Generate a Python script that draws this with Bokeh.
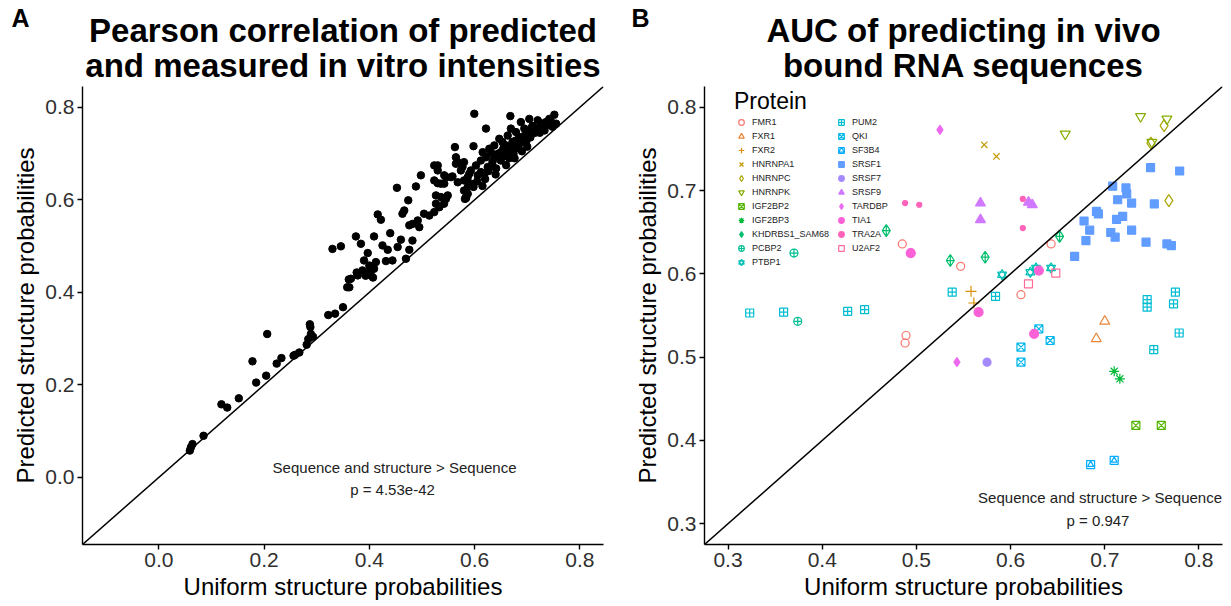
import math
from bokeh.plotting import figure
from bokeh.models import (Range1d, FixedTicker, PrintfTickFormatter, Label, Slope,
                          Legend, LegendItem)
from bokeh.layouts import row, column
from bokeh.embed import file_html
from bokeh.resources import INLINE

FONT = "Liberation Sans"

# ---------------- Panel A data ----------------
A_X = [0.059, 0.061, 0.064, 0.085, 0.119, 0.130, 0.152, 0.178, 0.185, 0.206, 0.204, 0.224,
       0.233, 0.256, 0.259, 0.267, 0.281, 0.287, 0.288, 0.289, 0.293, 0.284, 0.322, 0.335,
       0.350, 0.358, 0.361, 0.376, 0.393, 0.407, 0.400,
       0.330, 0.346, 0.3745, 0.409, 0.384, 0.397, 0.425, 0.4397, 0.435, 0.460, 0.4538, 0.444,
       0.4316, 0.4125, 0.400, 0.390, 0.387, 0.378, 0.403, 0.409, 0.365, 0.362, 0.4696, 0.476,
       0.482, 0.492, 0.495, 0.482, 0.476, 0.4664, 0.463, 0.474, 0.416, 0.422, 0.4525, 0.4886,
       0.498, 0.504, 0.514, 0.5266, 0.533, 0.5234, 0.536, 0.5456, 0.530, 0.5424, 0.5234, 0.530,
       0.5456, 0.558, 0.5646, 0.574, 0.580, 0.587, 0.5817, 0.587, 0.590,
       0.5995, 0.668, 0.7516, 0.6217, 0.5627, 0.598, 0.755, 0.704, 0.688, 0.720, 0.7357, 0.707,
       0.7135, 0.6945, 0.6787, 0.669, 0.685, 0.672, 0.6597, 0.647, 0.6375, 0.650, 0.631, 0.6217,
       0.612, 0.634, 0.625, 0.6027, 0.593, 0.606, 0.6185, 0.587, 0.577, 0.5646, 0.568, 0.580,
       0.555, 0.5424, 0.530, 0.5234, 0.536, 0.568, 0.593, 0.580, 0.549, 0.5424, 0.5836, 0.742,
       0.726, 0.701, 0.663, 0.653, 0.628, 0.6154, 0.5266, 0.542, 0.584,
       0.605, 0.612, 0.620, 0.626, 0.632, 0.637, 0.641, 0.645, 0.650, 0.655, 0.658, 0.662,
       0.666, 0.670, 0.674, 0.678, 0.682, 0.686, 0.690, 0.694, 0.698, 0.702, 0.706, 0.710,
       0.715, 0.720, 0.724, 0.728, 0.733, 0.738, 0.745, 0.748, 0.615, 0.598, 0.640, 0.660,
       0.676, 0.700]
A_Y = [0.058, 0.065, 0.072, 0.090, 0.158, 0.151, 0.171, 0.251, 0.205, 0.310, 0.220, 0.246,
       0.258, 0.263, 0.265, 0.270, 0.287, 0.331, 0.325, 0.310, 0.304, 0.299, 0.351, 0.354,
       0.368, 0.411, 0.428, 0.443, 0.436, 0.432, 0.446,
       0.494, 0.4995, 0.521, 0.521, 0.505, 0.485, 0.5015, 0.528, 0.492, 0.514, 0.498, 0.469,
       0.4676, 0.4655, 0.458, 0.469, 0.4475, 0.4367, 0.4367, 0.451, 0.4295, 0.411, 0.4727, 0.492,
       0.512, 0.5555, 0.541, 0.548, 0.545, 0.577, 0.570, 0.599, 0.5685, 0.557, 0.626, 0.629,
       0.653, 0.570, 0.566, 0.5916, 0.584, 0.5735, 0.606, 0.602, 0.636, 0.635, 0.6745, 0.6636,
       0.649, 0.6507, 0.678, 0.6636, 0.642, 0.6275, 0.602, 0.613, 0.6565,
       0.786, 0.781, 0.784, 0.754, 0.714, 0.716, 0.7646, 0.775, 0.768, 0.772, 0.768, 0.754,
       0.7465, 0.754, 0.7465, 0.754, 0.7356, 0.725, 0.7177, 0.732, 0.7177, 0.703, 0.703, 0.692,
       0.685, 0.6815, 0.671, 0.6745, 0.6636, 0.653, 0.6565, 0.649, 0.671, 0.692, 0.6815, 0.6815,
       0.649, 0.653, 0.6745, 0.642, 0.635, 0.638, 0.635, 0.620, 0.6096, 0.602, 0.606, 0.775,
       0.761, 0.7425, 0.739, 0.725, 0.7105, 0.703, 0.6096, 0.5916, 0.604,
       0.640, 0.660, 0.645, 0.662, 0.672, 0.690, 0.668, 0.700, 0.685, 0.712, 0.695, 0.705,
       0.690, 0.715, 0.700, 0.728, 0.712, 0.722, 0.705, 0.738, 0.725, 0.750, 0.735, 0.760,
       0.745, 0.755, 0.745, 0.765, 0.750, 0.762, 0.770, 0.758, 0.630, 0.628, 0.655, 0.675,
       0.690, 0.715]
A_TICKS = [0.0, 0.2, 0.4, 0.6, 0.8]
A_RANGE = (-0.145, 0.845)
A_TITLE = ["Pearson correlation of predicted", "and measured in vitro intensities"]
A_NOTE = ["Sequence and structure > Sequence", "p =  4.53e-42"]

# ---------------- Panel B data (x, y) per protein ----------------
FMR1 = [(0.485, 0.636), (0.643, 0.636), (0.547, 0.609), (0.611, 0.575), (0.489, 0.526), (0.488, 0.517)]
FXR1 = [(0.700, 0.543), (0.691, 0.522)]
FXR2 = [(0.558, 0.579), (0.561, 0.565)]
HNRNPA1 = [(0.572, 0.755), (0.585, 0.741)]
HNRNPC = [(0.763, 0.778), (0.749, 0.757), (0.768, 0.688)]
HNRNPK = [(0.658, 0.768), (0.738, 0.789), (0.766, 0.786), (0.750, 0.758)]
IGF2BP2 = [(0.733, 0.418), (0.760, 0.418)]
IGF2BP3 = [(0.710, 0.483), (0.716, 0.474)]
KHDRBS1_SAM68 = [(0.468, 0.652), (0.536, 0.616), (0.573, 0.620), (0.652, 0.645)]
PCBP2 = [(0.370, 0.625), (0.374, 0.543)]
PTBP1 = [(0.591, 0.599), (0.621, 0.602), (0.627, 0.607), (0.643, 0.607)]
PUM2 = [(0.323, 0.553), (0.359, 0.554), (0.427, 0.555), (0.445, 0.557), (0.538, 0.578),
        (0.584, 0.573), (0.745, 0.560), (0.745, 0.569), (0.775, 0.578), (0.773, 0.564),
        (0.779, 0.529), (0.752, 0.509)]
QKI = [(0.630, 0.534), (0.642, 0.520), (0.611, 0.512), (0.611, 0.494)]
SF3B4 = [(0.685, 0.371), (0.710, 0.376)]
SRSF1 = [(0.7486, 0.7276), (0.7795, 0.7235), (0.7084, 0.7053), (0.7225, 0.7032), (0.7233, 0.696),
         (0.7137, 0.689), (0.7285, 0.685), (0.7526, 0.684), (0.6912, 0.675), (0.6932, 0.672),
         (0.678, 0.6635), (0.684, 0.6525), (0.680, 0.640), (0.7064, 0.6497), (0.711, 0.644),
         (0.719, 0.669), (0.7125, 0.6655), (0.7285, 0.6525), (0.7438, 0.638), (0.766, 0.636),
         (0.7707, 0.634), (0.668, 0.621)]
SRSF7 = [(0.575, 0.494)]
SRSF9 = [(0.568, 0.685), (0.568, 0.665), (0.619, 0.686), (0.623, 0.683)]
TARDBP = [(0.525, 0.773), (0.543, 0.494)]
TIA1 = [(0.494, 0.625), (0.630, 0.604), (0.566, 0.554), (0.625, 0.528)]
TRA2A = [(0.488, 0.685), (0.503, 0.683), (0.613, 0.690), (0.613, 0.655)]
U2AF2 = [(0.619, 0.588), (0.648, 0.601)]

PROTEINS = ["FMR1", "FXR1", "FXR2", "HNRNPA1", "HNRNPC", "HNRNPK", "IGF2BP2", "IGF2BP3",
            "KHDRBS1_SAM68", "PCBP2", "PTBP1", "PUM2", "QKI", "SF3B4", "SRSF1", "SRSF7",
            "SRSF9", "TARDBP", "TIA1", "TRA2A", "U2AF2"]
B_POINTS = {"FMR1": FMR1, "FXR1": FXR1, "FXR2": FXR2, "HNRNPA1": HNRNPA1, "HNRNPC": HNRNPC,
            "HNRNPK": HNRNPK, "IGF2BP2": IGF2BP2, "IGF2BP3": IGF2BP3,
            "KHDRBS1_SAM68": KHDRBS1_SAM68, "PCBP2": PCBP2, "PTBP1": PTBP1, "PUM2": PUM2,
            "QKI": QKI, "SF3B4": SF3B4, "SRSF1": SRSF1, "SRSF7": SRSF7, "SRSF9": SRSF9,
            "TARDBP": TARDBP, "TIA1": TIA1, "TRA2A": TRA2A, "U2AF2": U2AF2}
B_TICKS = [0.3, 0.4, 0.5, 0.6, 0.7, 0.8]
B_RANGE = (0.275, 0.825)
B_TITLE = ["AUC of predicting in vivo", "bound RNA sequences"]
B_NOTE = ["Sequence and structure > Sequence", "p =  0.947"]

XLABEL = "Uniform structure probabilities"
YLABEL = "Predicted structure probabilities"

# marker styles (marker, size, filled)
MARKERS = {
    "FMR1": [("circle", 8, False)],
    "FXR1": [("triangle", 10, False)],
    "FXR2": [("cross", 11, False)],
    "HNRNPA1": [("x", 9, False)],
    "HNRNPC": [("diamond", 12, False)],
    "HNRNPK": [("inverted_triangle", 10, False)],
    "IGF2BP2": [("square_x", 8, False)],
    "IGF2BP3": [("asterisk", 10, False)],
    "KHDRBS1_SAM68": [("diamond_cross", 12, False)],
    "PCBP2": [("circle_cross", 8, False)],
    "PTBP1": [("triangle", 9, False), ("inverted_triangle", 9, False)],
    "PUM2": [("square_cross", 8, False)],
    "QKI": [("square_x", 8, False)],
    "SF3B4": [("square", 8, False), ("triangle", 6, False)],
    "SRSF1": [("square", 8, True)],
    "SRSF7": [("circle", 8, True)],
    "SRSF9": [("triangle", 10, True)],
    "TARDBP": [("diamond", 9, True)],
    "TIA1": [("circle", 9, True)],
    "TRA2A": [("circle", 5, True)],
    "U2AF2": [("square", 8, False)],
}


def hcl_hex(h, c=100.0, l=65.0):
    hr = math.radians(h)
    u, v = c * math.cos(hr), c * math.sin(hr)
    Xn, Yn, Zn = 95.047, 100.0, 108.883
    den = Xn + 15 * Yn + 3 * Zn
    un, vn = 4 * Xn / den, 9 * Yn / den
    Y = Yn * ((l + 16) / 116) ** 3
    up, vp = u / (13 * l) + un, v / (13 * l) + vn
    X = Y * 9 * up / (4 * vp)
    Z = Y * (12 - 3 * up - 20 * vp) / (4 * vp)
    X, Y, Z = X / 100, Y / 100, Z / 100
    r = 3.240479 * X - 1.537150 * Y - 0.498535 * Z
    g = -0.969256 * X + 1.875992 * Y + 0.041556 * Z
    b = 0.055648 * X - 0.204043 * Y + 1.057311 * Z

    def gam(t):
        t = 1.055 * t ** (1 / 2.4) - 0.055 if t > 0.0031308 else 12.92 * t
        return min(max(t, 0.0), 1.0)
    return "#%02x%02x%02x" % tuple(int(round(gam(t) * 255)) for t in (r, g, b))


n = len(PROTEINS)
COLORS = {p: hcl_hex(15 + 360.0 * i / n) for i, p in enumerate(PROTEINS)}

# layout (pixels)
HEAD_H = 86
PLOT_H = 519
FRAME_H = 458
A_W, A_LEFT, A_FW = 620, 82, 521
B_W, B_LEFT, B_FW = 609, 84, 518


def style(p, ticks):
    for ax in (p.xaxis[0], p.yaxis[0]):
        ax.ticker = FixedTicker(ticks=ticks)
        ax.formatter = PrintfTickFormatter(format="%.1f")
        ax.axis_line_color = "black"
        ax.axis_line_width = 1.4
        ax.major_tick_line_color = "black"
        ax.major_tick_line_width = 1.4
        ax.major_tick_out = 5
        ax.major_tick_in = 0
        ax.minor_tick_line_color = None
        ax.major_label_text_font = FONT
        ax.major_label_text_font_size = "21px"
        ax.major_label_text_color = "#303030"
        ax.major_label_standoff = 3
        ax.axis_label_text_font = FONT
        ax.axis_label_text_font_size = "24px"
        ax.axis_label_text_font_style = "normal"
        ax.axis_label_text_color = "black"
        ax.axis_label_standoff = 3
    p.xaxis.axis_label = XLABEL
    p.yaxis.axis_label = YLABEL
    p.grid.visible = False
    p.outline_line_color = None
    p.background_fill_color = "white"
    p.border_fill_color = "white"


# ---------------- Header (titles and panel letters) ----------------
head = figure(width=A_W + B_W, height=HEAD_H, x_range=Range1d(0, A_W + B_W),
              y_range=Range1d(0, HEAD_H), x_axis_type=None, y_axis_type=None,
              output_backend="svg", toolbar_location=None, min_border=0)
head.outline_line_color = None
head.grid.visible = False
for letter, lx in (("A", 20), ("B", 640)):
    head.add_layout(Label(x=lx, y=HEAD_H - 17, text=letter, text_font=FONT,
                          text_font_size="25px", text_font_style="bold",
                          text_align="center", text_baseline="middle", text_color="black"))
for lines, cx in ((A_TITLE, A_LEFT + A_FW / 2), (B_TITLE, A_W + B_LEFT + B_FW / 2)):
    for k, t in enumerate(lines):
        head.add_layout(Label(x=cx, y=HEAD_H - 30 - 35 * k, text=t, text_font=FONT,
                              text_font_size="33px", text_font_style="bold",
                              text_align="center", text_baseline="middle",
                              text_color="black"))

# ---------------- Panel A ----------------
pA = figure(width=A_W, height=PLOT_H, x_range=Range1d(*A_RANGE), y_range=Range1d(*A_RANGE),
            output_backend="svg", toolbar_location=None,
            min_border_left=A_LEFT, min_border_right=A_W - A_LEFT - A_FW,
            min_border_top=0, min_border_bottom=PLOT_H - FRAME_H)
style(pA, A_TICKS)
pA.add_layout(Slope(gradient=1, y_intercept=0, line_color="black", line_width=1.5))
pA.scatter(A_X, A_Y, size=7.5, color="black")
for k, t in enumerate(A_NOTE):
    pA.add_layout(Label(x=0.448, y=0.022 - 0.048 * k, text=t, text_font=FONT,
                        text_font_size="15px", text_align="center", text_baseline="middle",
                        text_color="#222"))

# ---------------- Panel B ----------------
pB = figure(width=B_W, height=PLOT_H, x_range=Range1d(*B_RANGE), y_range=Range1d(*B_RANGE),
            output_backend="svg", toolbar_location=None,
            min_border_left=B_LEFT, min_border_right=B_W - B_LEFT - B_FW,
            min_border_top=0, min_border_bottom=PLOT_H - FRAME_H)
style(pB, B_TICKS)
pB.add_layout(Slope(gradient=1, y_intercept=0, line_color="black", line_width=1.5))

items = []
for prot in PROTEINS:
    pts = B_POINTS[prot]
    xs = [q[0] for q in pts]
    ys = [q[1] for q in pts]
    col = COLORS[prot]
    rs = []
    for mk, sz, filled in MARKERS[prot]:
        r = pB.scatter(xs, ys, marker=mk, size=sz, line_color=col, line_width=1.2,
                       fill_color=col if filled else None)
        rs.append(r)
    items.append(LegendItem(label=prot, renderers=rs))

leg_common = dict(glyph_width=14, glyph_height=14, label_height=14, spacing=0, padding=0,
                  margin=0, label_standoff=4, border_line_color=None,
                  background_fill_alpha=0, label_text_font=FONT,
                  label_text_font_size="9px", label_text_color="#222222")
leg1 = Legend(items=items[:11], location=(30, 275), title="Protein",
              title_text_font=FONT, title_text_font_size="23px", title_text_color="black",
              title_text_font_style="normal", title_standoff=0, **leg_common)
leg2 = Legend(items=items[11:], location=(130, 289), **leg_common)
pB.add_layout(leg1, "center")
pB.add_layout(leg2, "center")

for k, t in enumerate(B_NOTE):
    pB.add_layout(Label(x=0.695, y=0.331 - 0.027 * k, text=t, text_font=FONT,
                        text_font_size="15px", text_align="center", text_baseline="middle",
                        text_color="#222"))

layout = column(head, row(pA, pB))
open("out.html", "w").write(file_html(layout, INLINE))
